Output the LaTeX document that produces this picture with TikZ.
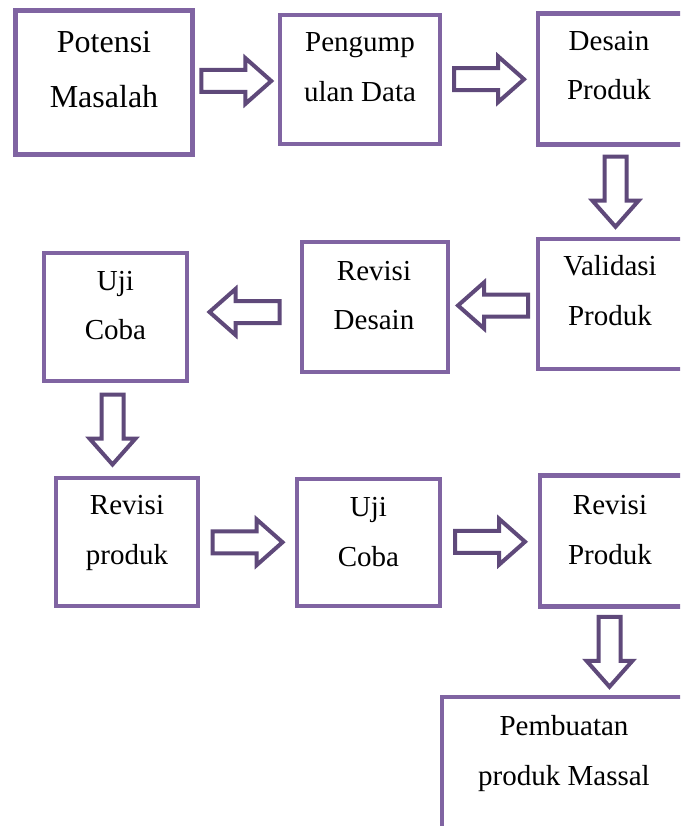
\documentclass[tikz,border=0pt]{standalone}
\usepackage{fontspec}
\setmainfont{Liberation Serif}
\usetikzlibrary{calc}
\definecolor{boxc}{HTML}{8064A2}
\definecolor{arrc}{HTML}{5F497A}
\tikzset{
  box/.style={draw=boxc, line width=4.5pt, rectangle, inner sep=0pt, fill=white},
  lbl/.style={anchor=base, inner sep=0pt, font=\fontsize{29}{34}\selectfont},
  big/.style={font=\fontsize{32}{38}\selectfont},
  barrow/.pic={\draw[arrc, line width=4pt, line join=miter, fill=white]
    (-35,-11) -- (9,-11) -- (9,-23) -- (35,0) -- (9,23) -- (9,11) -- (-35,11) -- cycle;}
}
\begin{document}
\begin{tikzpicture}[x=1pt,y=-1pt]
\useasboundingbox[fill=white] (0,0) rectangle (680,826);
\begin{scope}
\clip (0,0) rectangle (680,826);
% boxes
\node[box, minimum width=177, minimum height=144] (b1) at (104,82.5) {};
\node[box, minimum width=160, minimum height=129] (b2) at (360,79.5) {};
\node[box, minimum width=150, minimum height=131] (b3) at (613,79) {};
\node[box, minimum width=150, minimum height=130] (b4) at (613,304) {};
\node[box, minimum width=146, minimum height=130] (b5) at (375,307) {};
\node[box, minimum width=143, minimum height=128] (b6) at (115.5,317) {};
\node[box, minimum width=142, minimum height=128] (b7) at (127,542) {};
\node[box, minimum width=143, minimum height=127] (b8) at (368.5,542.5) {};
\node[box, minimum width=146, minimum height=131] (b9) at (613,541) {};
\node[box, minimum width=244, minimum height=200] (b10) at (564,797) {};
% texts
\node[lbl, big] (t1a) at (104,53) {Potensi};
\node[lbl, big] (t1b) at (104,108) {Masalah};
\node[lbl] (t2a) at (360,52) {Pengump};
\node[lbl] (t2b) at (360,102) {ulan Data};
\node[lbl] (t3a) at (609,51) {Desain};
\node[lbl] (t3b) at (609,100) {Produk};
\node[lbl] (t4a) at (610,275) {Validasi};
\node[lbl] (t4b) at (610,325) {Produk};
\node[lbl] (t5a) at (374,280) {Revisi};
\node[lbl] (t5b) at (374,329) {Desain};
\node[lbl] (t6a) at (115.5,290) {Uji};
\node[lbl] (t6b) at (115.5,339) {Coba};
\node[lbl] (t7a) at (127,514) {Revisi};
\node[lbl] (t7b) at (127,564) {produk};
\node[lbl] (t8a) at (368.5,516) {Uji};
\node[lbl] (t8b) at (368.5,566) {Coba};
\node[lbl] (t9a) at (610,514) {Revisi};
\node[lbl] (t9b) at (610,564) {Produk};
\node[lbl] (t10a) at (564,735) {Pembuatan};
\node[lbl] (t10b) at (564,785) {produk Massal};
% arrows
\coordinate (m1) at ($(b1.east)!.5!(b2.west)$);
\coordinate (m2) at ($(b2.east)!.5!(b3.west)$);
\coordinate (m3) at ($(b3.south)!.5!(b4.north)$);
\coordinate (m4) at ($(b4.west)!.5!(b5.east)$);
\coordinate (m5) at ($(b5.west)!.5!(b6.east)$);
\coordinate (m6) at ($(b6.south)!.5!(b7.north)$);
\coordinate (m7) at ($(b7.east)!.5!(b8.west)$);
\coordinate (m8) at ($(b8.east)!.5!(b9.west)$);
\coordinate (m9) at ($(b9.south)!.5!(b10.north)$);
\coordinate (x3) at (615.5,0);
\coordinate (x6) at (112.5,0);
\coordinate (x9) at (609.5,0);
\pic at (m1) {barrow};
\pic at (m2) {barrow};
\pic[rotate=-90] at (x3 |- m3) {barrow};
\pic[rotate=180] at (m4) {barrow};
\pic[rotate=180] at (m5) {barrow};
\pic[rotate=-90] at (x6 |- m6) {barrow};
\pic at (m7) {barrow};
\pic at (m8) {barrow};
\pic[rotate=-90] at (x9 |- m9) {barrow};
\end{scope}
\end{tikzpicture}
\end{document}
